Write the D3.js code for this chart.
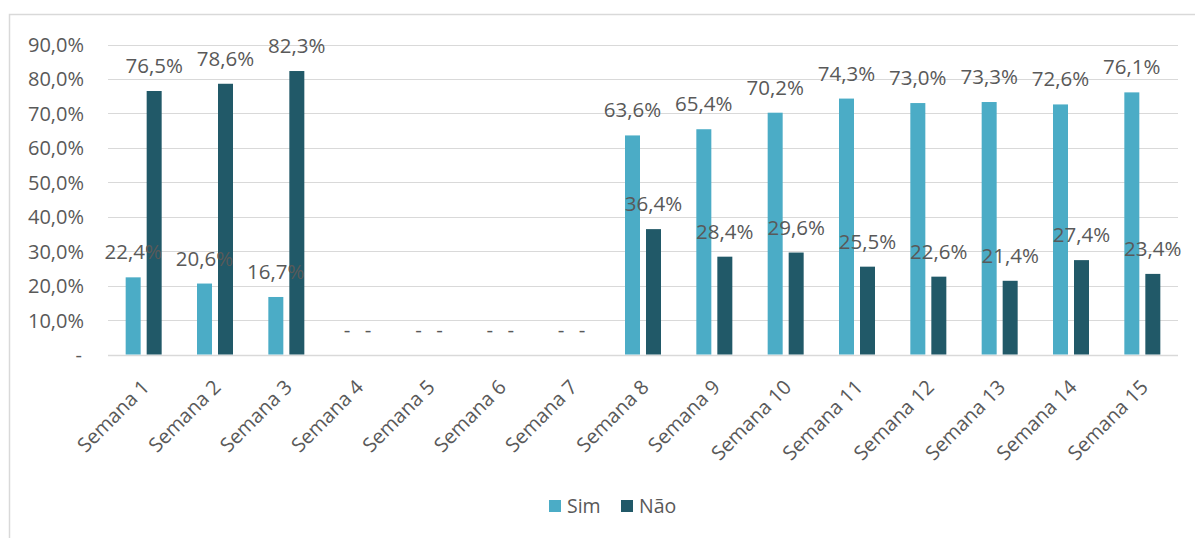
<!DOCTYPE html>
<html>
<head>
<meta charset="utf-8">
<script src="https://cdn.jsdelivr.net/npm/d3@7"></script>
<style>
  body { margin: 0; background: #fff; }
  text { font-family: "Open Sans", "Noto Sans", sans-serif; fill: #595959; }
</style>
</head>
<body>
<div id="chart"></div>
<script>
// weeks and answers
var weeks = ["Semana 1", "Semana 2", "Semana 3", "Semana 4", "Semana 5", "Semana 6", "Semana 7",
  "Semana 8", "Semana 9", "Semana 10", "Semana 11", "Semana 12", "Semana 13", "Semana 14", "Semana 15"];
var simValues = [22.4, 20.6, 16.7, 0, 0, 0, 0, 63.6, 65.4, 70.2, 74.3, 73.0, 73.3, 72.6, 76.1];
var naoValues = [76.5, 78.6, 82.3, 0, 0, 0, 0, 36.4, 28.4, 29.6, 25.5, 22.6, 21.4, 27.4, 23.4];
var seriesNames = ["Sim", "Não"];
var yTicks = [0, 10, 20, 30, 40, 50, 60, 70, 80, 90];

var width = 1195;
var height = 538;
var colors = ["#4bacc6", "#215968"];

var svg = d3.select("#chart").append("svg")
  .attr("width", width)
  .attr("height", height);

// outer frame of the chart
svg.append("rect")
  .attr("x", 9.5).attr("y", 14.5)
  .attr("width", 1300).attr("height", 700)
  .attr("fill", "none")
  .attr("stroke", "#d9d9d9")
  .attr("stroke-width", 1.5);

var plotLeft = 108, plotRight = 1178, plotTop = 44.5, plotBottom = 354.5;

var xScale = d3.scaleBand().domain(weeks).range([plotLeft, plotRight]);
var yScale = d3.scaleLinear().domain([0, 90]).range([plotBottom, plotTop]);

// number format like 76,5%
function fmt(v) {
  if (v === 0) return "-";
  return d3.format(".1f")(v).replace(".", ",") + "%";
}

// gridlines
svg.append("g").selectAll("line")
  .data(yTicks)
  .enter().append("line")
  .attr("x1", plotLeft).attr("x2", plotRight)
  .attr("y1", function(d) { return Math.round(yScale(d)) + 0.5; })
  .attr("y2", function(d) { return Math.round(yScale(d)) + 0.5; })
  .attr("stroke", "#d9d9d9")
  .attr("stroke-width", function(d) { return d === 0 ? 1.5 : 1; });

// y axis labels
var yAxis = d3.axisLeft(yScale).tickValues(yTicks).tickSize(0).tickPadding(0)
  .tickFormat(function(d) { return d === 0 ? "-" : d3.format(".1f")(d).replace(".", ",") + "%"; });
var yG = svg.append("g")
  .attr("transform", "translate(" + 84 + ",0)")
  .call(yAxis);
yG.select(".domain").remove();
yG.selectAll("text")
  .attr("font-size", 20)
  .attr("fill", "#595959")
  .attr("font-family", "'Open Sans', 'Noto Sans', sans-serif")
  .attr("dy", "0.35em");
yG.selectAll(".tick").filter(function(d) { return d === 0; }).select("text")
  .attr("dx", -2);

// bars
var barW = 15, gap = 6;
var series = [simValues, naoValues];
series.forEach(function(vals, si) {
  var off = si === 0 ? -gap / 2 - barW : gap / 2;
  var g = svg.append("g");
  g.selectAll("rect")
    .data(vals)
    .enter().append("rect")
    .attr("x", function(d, i) { return xScale(weeks[i]) + xScale.bandwidth() / 2 + off; })
    .attr("y", function(d) { return yScale(d); })
    .attr("width", barW)
    .attr("height", function(d) { return plotBottom - yScale(d); })
    .attr("fill", colors[si]);
});

// data labels
series.forEach(function(vals, si) {
  var off = si === 0 ? -gap / 2 - barW / 2 : gap / 2 + barW / 2;
  svg.append("g").selectAll("text")
    .data(vals)
    .enter().append("text")
    .attr("x", function(d, i) { return xScale(weeks[i]) + xScale.bandwidth() / 2 + off; })
    .attr("y", function(d) { return yScale(d) - 18; })
    .attr("text-anchor", "middle")
    .attr("font-size", 20.5)
    .text(function(d) { return fmt(d); });
});

// x labels rotated
var xAxis = d3.axisBottom(xScale).tickSize(0).tickPadding(0);
var xG = svg.append("g")
  .attr("transform", "translate(0," + plotBottom + ")")
  .call(xAxis);
xG.select(".domain").remove();
xG.selectAll("text")
  .attr("font-size", 20)
  .attr("fill", "#595959")
  .attr("font-family", "'Open Sans', 'Noto Sans', sans-serif")
  .attr("text-anchor", "end")
  .attr("dy", "0")
  .attr("transform", "translate(7,34) rotate(-45)");

// legend
var legend = svg.append("g").attr("transform", "translate(549,506)");
var legX = [0, 72];
seriesNames.forEach(function(name, i) {
  legend.append("rect")
    .attr("x", legX[i]).attr("y", -6)
    .attr("width", 12).attr("height", 12)
    .attr("fill", colors[i]);
  legend.append("text")
    .attr("x", legX[i] + 18).attr("y", 0)
    .attr("dy", "0.35em")
    .attr("font-size", 19.5)
    .text(name);
});
</script>
</body>
</html>
